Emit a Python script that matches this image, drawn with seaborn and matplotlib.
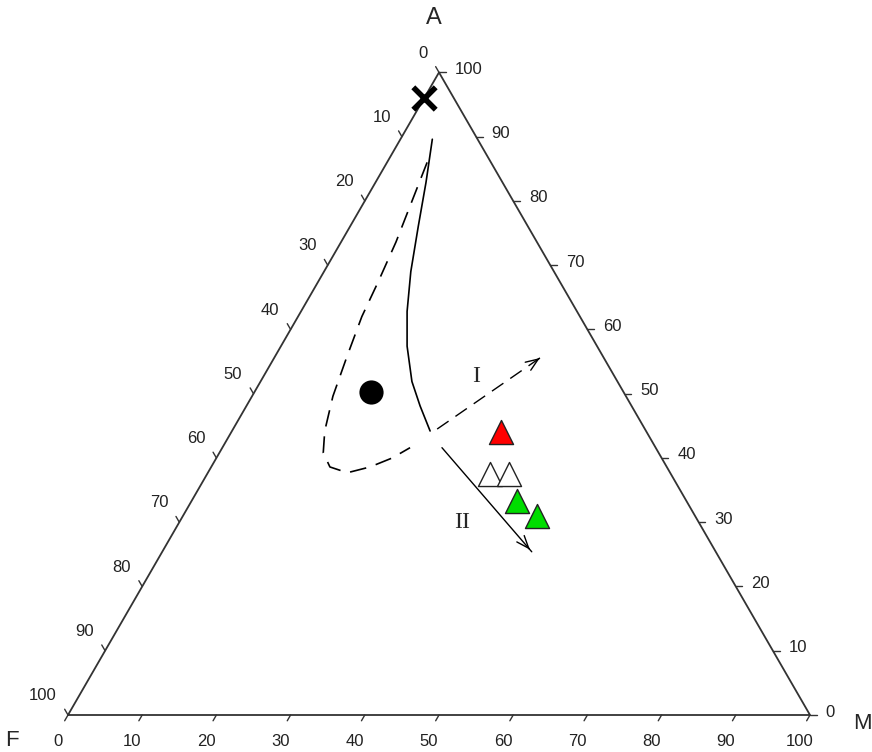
import numpy as np
import pandas as pd
import seaborn as sns
import matplotlib.pyplot as plt

# AFM ternary data (percent A and percent M, F = 100 - A - M)
solid_A = [89.6, 82.9, 76.0, 69.0, 62.8, 57.4, 51.9, 48.1, 44.2]
solid_M = [4.3, 6.8, 9.2, 11.7, 14.3, 17.0, 20.4, 23.4, 26.7]
dash_A = [86.0, 79.8, 73.6, 67.4, 62.0, 55.8, 49.6, 44.2, 40.8, 38.6, 37.7, 38.6, 40.0, 41.6]
dash_M = [5.4, 6.4, 7.4, 8.1, 8.6, 9.7, 10.9, 12.5, 14.0, 16.0, 18.8, 21.4, 23.7, 25.3]

arrow1_A = [44.5, 55.8]
arrow1_M = [27.5, 36.0]
arrow2_A = [41.6, 25.4]
arrow2_M = [29.6, 49.8]

cross_A, cross_M = [96.0], [0.0]
circle_A, circle_M = [50.2], [15.7]
red_A, red_M = [44.0], [36.3]
white_A, white_M = [37.5, 37.5], [38.1, 40.7]
green_A, green_M = [33.3, 31.0], [43.8, 47.7]

ticks = list(range(0, 101, 10))

SQ = np.sqrt(3) / 2


def tern(a, m):
    a = np.asarray(a, dtype=float) / 100
    m = np.asarray(m, dtype=float) / 100
    return m + a / 2, a * SQ


sns.set_style('white')
plt.rcParams['font.family'] = ['Liberation Sans', 'DejaVu Sans']

fig = plt.figure(figsize=(8.72, 7.52), dpi=100)
ax = fig.add_axes([0, 0, 1, 1])
ax.set_xlim(-68 / 742, 804 / 742)
ax.set_ylim(-37 / 742, 715 / 742)
ax.axis('off')

# frame
fx, fy = tern([0, 0, 100, 0], [0, 100, 0, 0])
ax.plot(fx, fy, color='#333333', lw=1.3, zorder=2)

# ticks and tick labels
tl = 0.009
tick_kw = dict(fontsize=12, color='#222222')
for t in ticks:
    # bottom axis: M
    x, y = tern(0, t)
    ax.plot([x, x - 0.5 * tl], [y, y - SQ * tl], color='#333333', lw=1)
    ax.text(x - 0.0135, y - 0.036, str(t), ha='center', va='center', **tick_kw)
    # left axis: F (A = 100 - F, M = 0)
    x, y = tern(100 - t, 0)
    ax.plot([x, x - 0.5 * tl], [y, y + SQ * tl], color='#333333', lw=1)
    ax.text(x - 0.015, y + 0.026, str(t), ha='right', va='center', **tick_kw)
    # right axis: A (F = 0)
    x, y = tern(t, 100 - t)
    ax.plot([x, x + tl], [y, y], color='#333333', lw=1)
    ax.text(x + 0.021, y + 0.004, str(t), ha='left', va='center', **tick_kw)

ax.text(0.493, 0.939, 'A', fontsize=17, ha='center', va='center')
ax.text(-0.0755, -0.0337, 'F', fontsize=16, ha='center', va='center')
ax.text(1.070, -0.0108, 'M', fontsize=16, ha='center', va='center')

# trend curves
sx, sy = tern(solid_A, solid_M)
sns.lineplot(x=sx, y=sy, sort=False, estimator=None, color='black', lw=1.2, ax=ax)
dx, dy = tern(dash_A, dash_M)
sns.lineplot(x=dx, y=dy, sort=False, estimator=None, color='black', lw=1.2,
             dashes=False, ax=ax).lines[-1].set_dashes([10, 6])

# arrows I and II
for aA, aM, ls in [(arrow1_A, arrow1_M, (0, (10, 6))), (arrow2_A, arrow2_M, '-')]:
    ax_, ay_ = tern(aA, aM)
    ax.plot(ax_, ay_, color='black', lw=1.0, linestyle=ls)
    vx, vy = ax_[1] - ax_[0], ay_[1] - ay_[0]
    ax.annotate('', xy=(ax_[1], ay_[1]), xytext=(ax_[1] - 0.05 * vx, ay_[1] - 0.05 * vy),
                arrowprops=dict(arrowstyle='->,head_length=0.9,head_width=0.35',
                                color='black', lw=1.0))

ix, iy = tern(52.7, 28.6)
ax.text(ix, iy, 'I', family='Liberation Serif', fontsize=17, ha='center', va='center')
ix, iy = tern(29.9, 38.1)
ax.text(ix, iy, 'II', family='Liberation Serif', fontsize=17, ha='center', va='center')

# sample points
x, y = tern(cross_A, cross_M)
sns.scatterplot(x=x, y=y, marker='x', s=260, color='black', linewidth=4, ax=ax, zorder=5)
x, y = tern(circle_A, circle_M)
sns.scatterplot(x=x, y=y, marker='o', s=260, color='black', edgecolor='black', ax=ax, zorder=5)
for A, M, col in [(red_A, red_M, '#ff0000'), (white_A, white_M, 'white'),
                  (green_A, green_M, '#00dd00')]:
    x, y = tern(A, M)
    sns.scatterplot(x=x, y=y, marker='^', s=300, color=col, edgecolor='#222222',
                    linewidth=1.0, ax=ax, zorder=5)

fig.savefig('out.png', dpi=100, facecolor='white')
